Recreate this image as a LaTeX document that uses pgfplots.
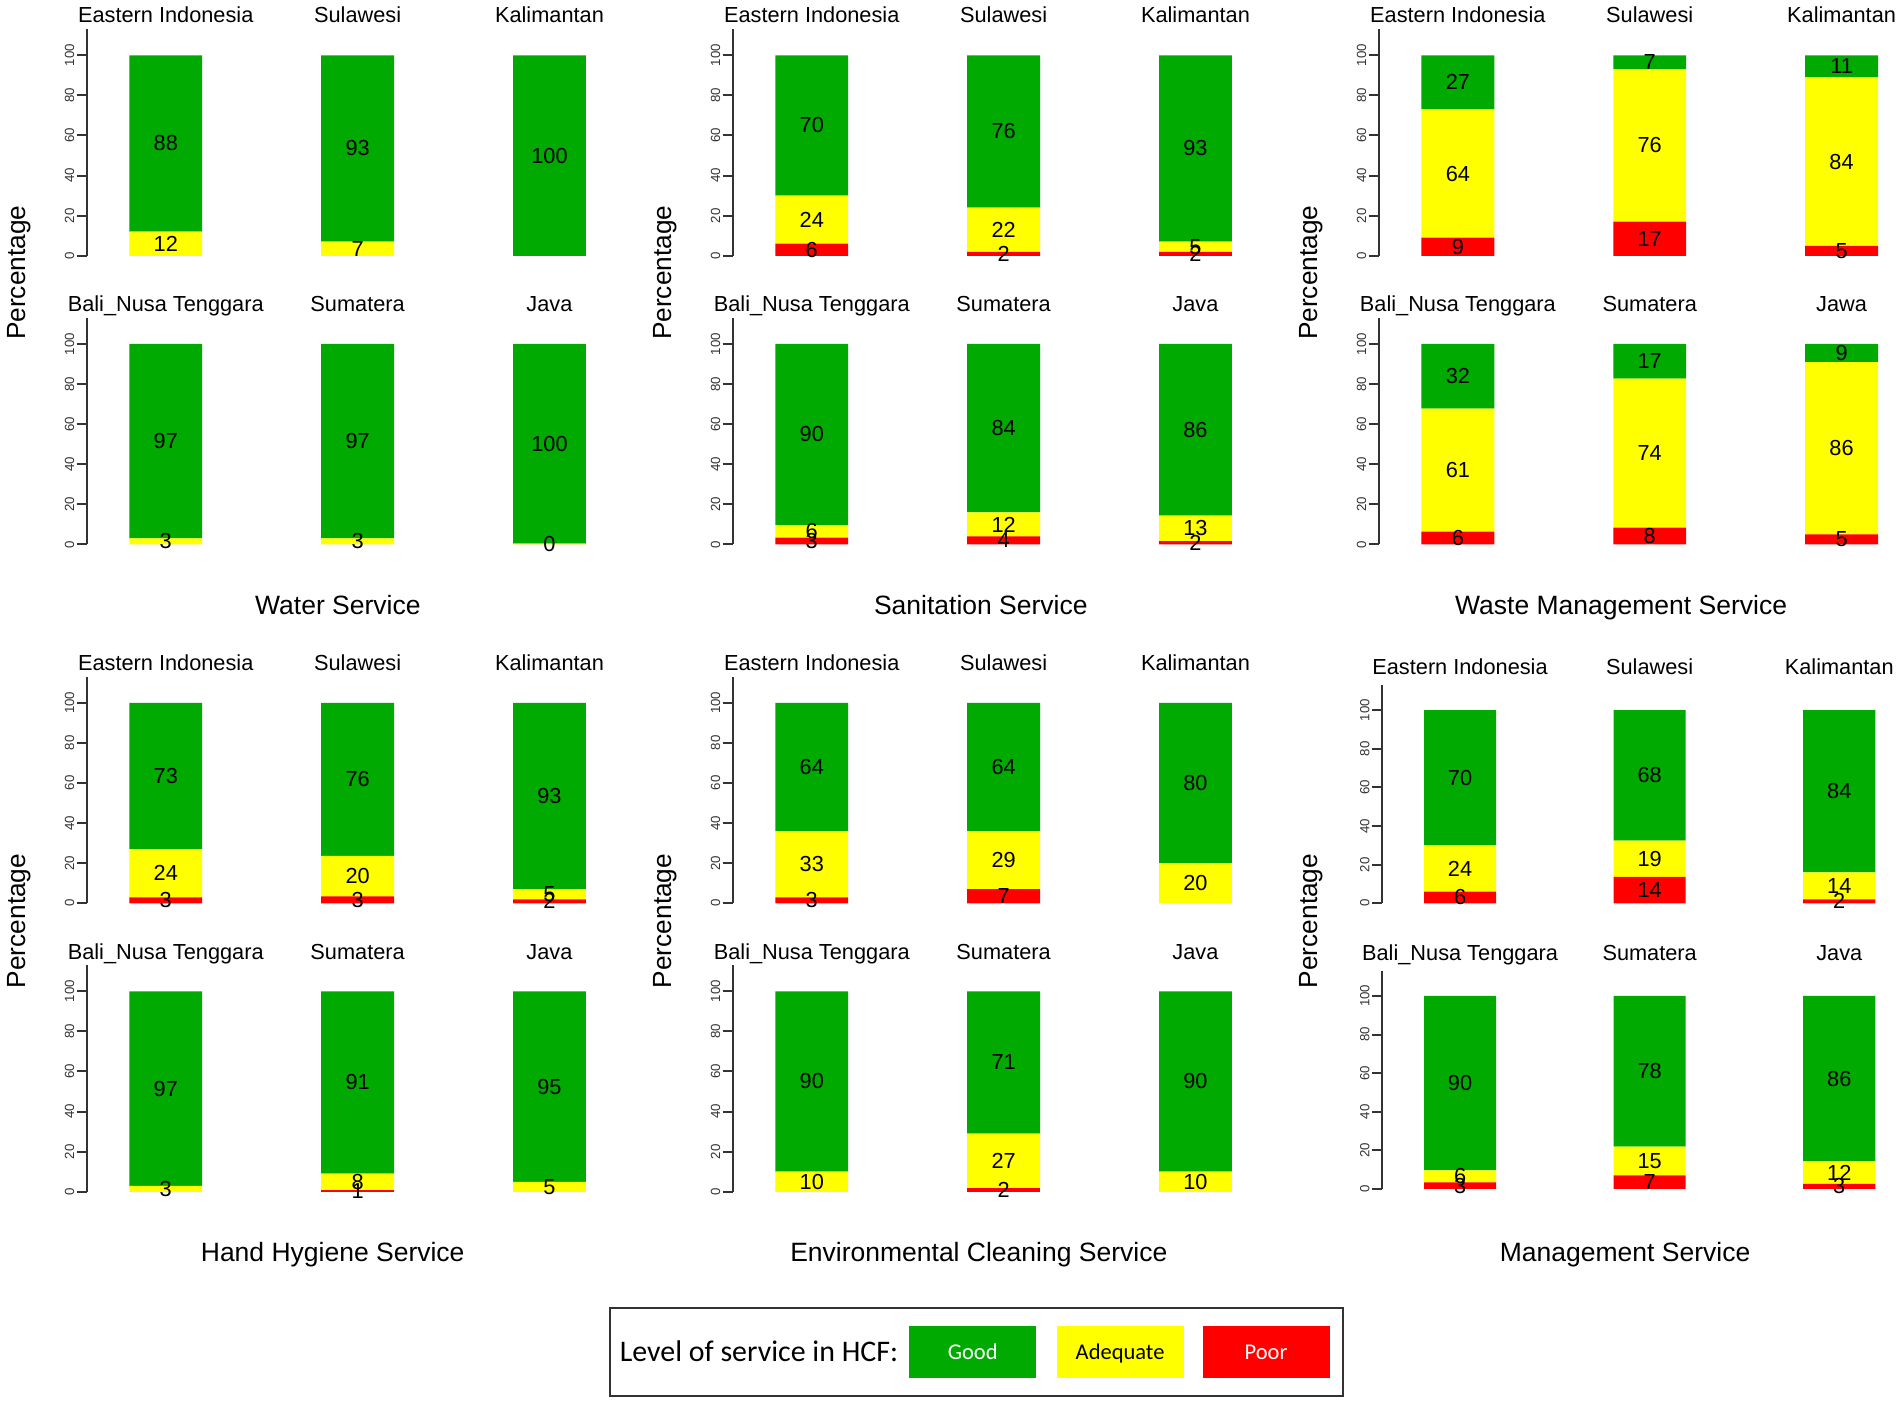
\documentclass[border=0pt]{standalone}
\usepackage{fontspec}
\setmainfont{Liberation Sans}
\newfontfamily\legendfont{Carlito}
\usepackage{pgfplots}
\usepackage{pgfplotstable}
\pgfplotsset{compat=1.18}
\definecolor{cgood}{RGB}{0,170,0}
\definecolor{cadeq}{RGB}{255,255,0}
\definecolor{cpoor}{RGB}{255,0,0}

% Water
\pgfplotstableread{
x poor adequate good
0 0 12 88
1 0 7 93
2 0 0 100
}\waterA
\pgfplotstableread{
x poor adequate good
0 0 3 97
1 0 3 97
2 0 0.4 99.6
}\waterB
% Sanitation
\pgfplotstableread{
x poor adequate good
0 6 24 70
1 2 22 76
2 2 5 93
}\sanA
\pgfplotstableread{
x poor adequate good
0 3.4 6.3 90.3
1 4 12 84
2 1.7 12.7 85.6
}\sanB
% Waste management
\pgfplotstableread{
x poor adequate good
0 9 64 27
1 17 76 7
2 5 84 11
}\wasteA
\pgfplotstableread{
x poor adequate good
0 6.4 61.3 32.3
1 8.4 74.3 17.3
2 5 86 9
}\wasteB
% Hand hygiene
\pgfplotstableread{
x poor adequate good
0 3 24 73
1 3.4 20.3 76.3
2 2 5 93
}\handA
\pgfplotstableread{
x poor adequate good
0 0 3 97
1 1 8 91
2 0 5 95
}\handB
% Environmental cleaning
\pgfplotstableread{
x poor adequate good
0 3 33 64
1 7 29 64
2 0 20 80
}\envA
\pgfplotstableread{
x poor adequate good
0 0 10 90
1 2 27 71
2 0 10 90
}\envB
% Management
\pgfplotstableread{
x poor adequate good
0 6 24 70
1 13.7 18.7 67.6
2 2 14 84
}\mgmtA
\pgfplotstableread{
x poor adequate good
0 3.4 6.3 90.3
1 7 15 78
2 2.6 11.7 85.7
}\mgmtB

\pgfplotsset{
  rowaxis/.style={
    anchor=south west, xmin=-0.41, xmax=2.3, ymin=0, ymax=113,
    enlargelimits=false,
    axis x line=none, axis y line*=left,
    ytick={0,20,40,60,80,100},
    tick align=outside, major tick length=4.16pt,
    tick style={black!80, line width=0.8pt},
    axis line style={black!80, line width=0.9pt},
    yticklabel style={rotate=90, anchor=south, inner sep=0pt,
      font=\fontsize{5.3}{6}\selectfont, text=black!80},
    yticklabel shift=0.8pt,
    /pgf/number format/assume math mode=true,
    clip=false, ybar stacked, bar width=0.38,
  },
  labaxis/.style={anchor=south west, xmin=-0.41, xmax=2.3, ymin=0, ymax=113,
    enlargelimits=false, hide axis, clip=false},
  lab/.style={draw=none, mark=none,
    nodes near coords={\pgfmathprintnumber[fixed,precision=0,assume math mode=true]{\pgfplotspointmeta}},
    nodes near coords style={anchor=center, inner sep=0pt,
      font=\fontsize{8.7}{10}\selectfont, text=black}},
}
\tikzset{regtitle/.style={anchor=base, inner sep=0pt, font=\fontsize{8.7}{10}\selectfont},
  svctitle/.style={anchor=base, inner sep=0pt, font=\fontsize{10.6}{12}\selectfont},
  perc/.style={anchor=base, rotate=90, inner sep=0pt, font=\fontsize{10.5}{12}\selectfont}}

% #1 x pos, #2 y pos, #3 x unit, #4 y unit, #5 table, #6-#8 titles
\newcommand{\barrow}[8]{%
  \begin{axis}[rowaxis, at={(#1pt,#2pt)}, x=#3pt, y=#4pt]
    \addplot[fill=cpoor, draw=none] table[x=x, y=poor] {#5};
    \addplot[fill=cadeq, draw=none] table[x=x, y=adequate] {#5};
    \addplot[fill=cgood, draw=none] table[x=x, y=good] {#5};
    \node[regtitle] at (axis cs:0,\titley) {#6};
    \node[regtitle] at (axis cs:1,\titley) {#7};
    \node[regtitle] at (axis cs:2,\titley) {#8};
  \end{axis}
  \begin{axis}[labaxis, at={(#1pt,#2pt)}, x=#3pt, y=#4pt]
    \addplot[lab, restrict expr to domain={\thisrow{poor}}{0.05:1000}, point meta=\thisrow{poor}]
      table[x=x, y expr=\thisrow{poor}/2] {#5};
    \addplot[lab, restrict expr to domain={\thisrow{adequate}}{0.05:1000}, point meta=\thisrow{adequate}]
      table[x=x, y expr=\thisrow{poor}+\thisrow{adequate}/2] {#5};
    \addplot[lab, restrict expr to domain={\thisrow{good}}{0.05:1000}, point meta=\thisrow{good}]
      table[x=x, y expr=\thisrow{poor}+\thisrow{adequate}+\thisrow{good}/2] {#5};
  \end{axis}
}

\begin{document}
\begin{tikzpicture}
\useasboundingbox (0,0) rectangle (760.8pt,561.2pt);

\def\titley{116.1}
\barrow{34.84}{458.88}{76.74}{0.802}{\waterA}{Eastern Indonesia}{Sulawesi}{Kalimantan}
\barrow{34.84}{343.4}{76.74}{0.802}{\waterB}{Bali\_Nusa Tenggara}{Sumatera}{Java}
\barrow{293.24}{458.88}{76.74}{0.802}{\sanA}{Eastern Indonesia}{Sulawesi}{Kalimantan}
\barrow{293.24}{343.4}{76.74}{0.802}{\sanB}{Bali\_Nusa Tenggara}{Sumatera}{Java}
\barrow{551.68}{458.88}{76.74}{0.802}{\wasteA}{Eastern Indonesia}{Sulawesi}{Kalimantan}
\barrow{551.68}{343.4}{76.74}{0.802}{\wasteB}{Bali\_Nusa Tenggara}{Sumatera}{Jawa}
\barrow{34.84}{199.88}{76.74}{0.802}{\handA}{Eastern Indonesia}{Sulawesi}{Kalimantan}
\barrow{34.84}{84.48}{76.74}{0.802}{\handB}{Bali\_Nusa Tenggara}{Sumatera}{Java}
\barrow{293.24}{199.88}{76.74}{0.802}{\envA}{Eastern Indonesia}{Sulawesi}{Kalimantan}
\barrow{293.24}{84.48}{76.74}{0.802}{\envB}{Bali\_Nusa Tenggara}{Sumatera}{Java}
\def\titley{118.4}
\barrow{552.92}{199.88}{75.84}{0.7724}{\mgmtA}{Eastern Indonesia}{Sulawesi}{Kalimantan}
\barrow{552.92}{85.6}{75.84}{0.7724}{\mgmtB}{Bali\_Nusa Tenggara}{Sumatera}{Java}

% service titles
\node[svctitle] at (135.16pt,315.4pt) {Water Service};
\node[svctitle] at (392.32pt,315.4pt) {Sanitation Service};
\node[svctitle] at (648.44pt,315.4pt) {Waste Management Service};
\node[svctitle] at (133.08pt,56.5pt) {Hand Hygiene Service};
\node[svctitle] at (391.52pt,56.5pt) {Environmental Cleaning Service};
\node[svctitle] at (650.04pt,56.5pt) {Management Service};

% y labels
\foreach \px in {10.2,268.6,527.0}{
  \node[perc] at (\px pt,452.08pt) {Percentage};
  \node[perc] at (\px pt,192.8pt) {Percentage};
}

% legend
\draw[black!80, line width=0.7pt] (243.88pt,2.8pt) rectangle (537.24pt,37.88pt);
\node[anchor=base west, inner sep=0pt, font=\legendfont\fontsize{11.96}{14}\selectfont] at (247.76pt,16.67pt) {Level of service in HCF:};
\fill[cgood] (363.72pt,9.88pt) rectangle (414.52pt,30.92pt);
\fill[cadeq] (422.64pt,9.88pt) rectangle (473.44pt,30.92pt);
\fill[cpoor] (481.0pt,9.88pt) rectangle (531.8pt,30.92pt);
\node[anchor=base, inner sep=0pt, text=white, font=\legendfont\fontsize{9}{11}\selectfont] at (389.12pt,17.5pt) {Good};
\node[anchor=base, inner sep=0pt, text=black, font=\legendfont\fontsize{9}{11}\selectfont] at (448.04pt,17.5pt) {Adequate};
\node[anchor=base, inner sep=0pt, text=white, font=\legendfont\fontsize{9}{11}\selectfont] at (506.4pt,17.5pt) {Poor};
\end{tikzpicture}
\end{document}
